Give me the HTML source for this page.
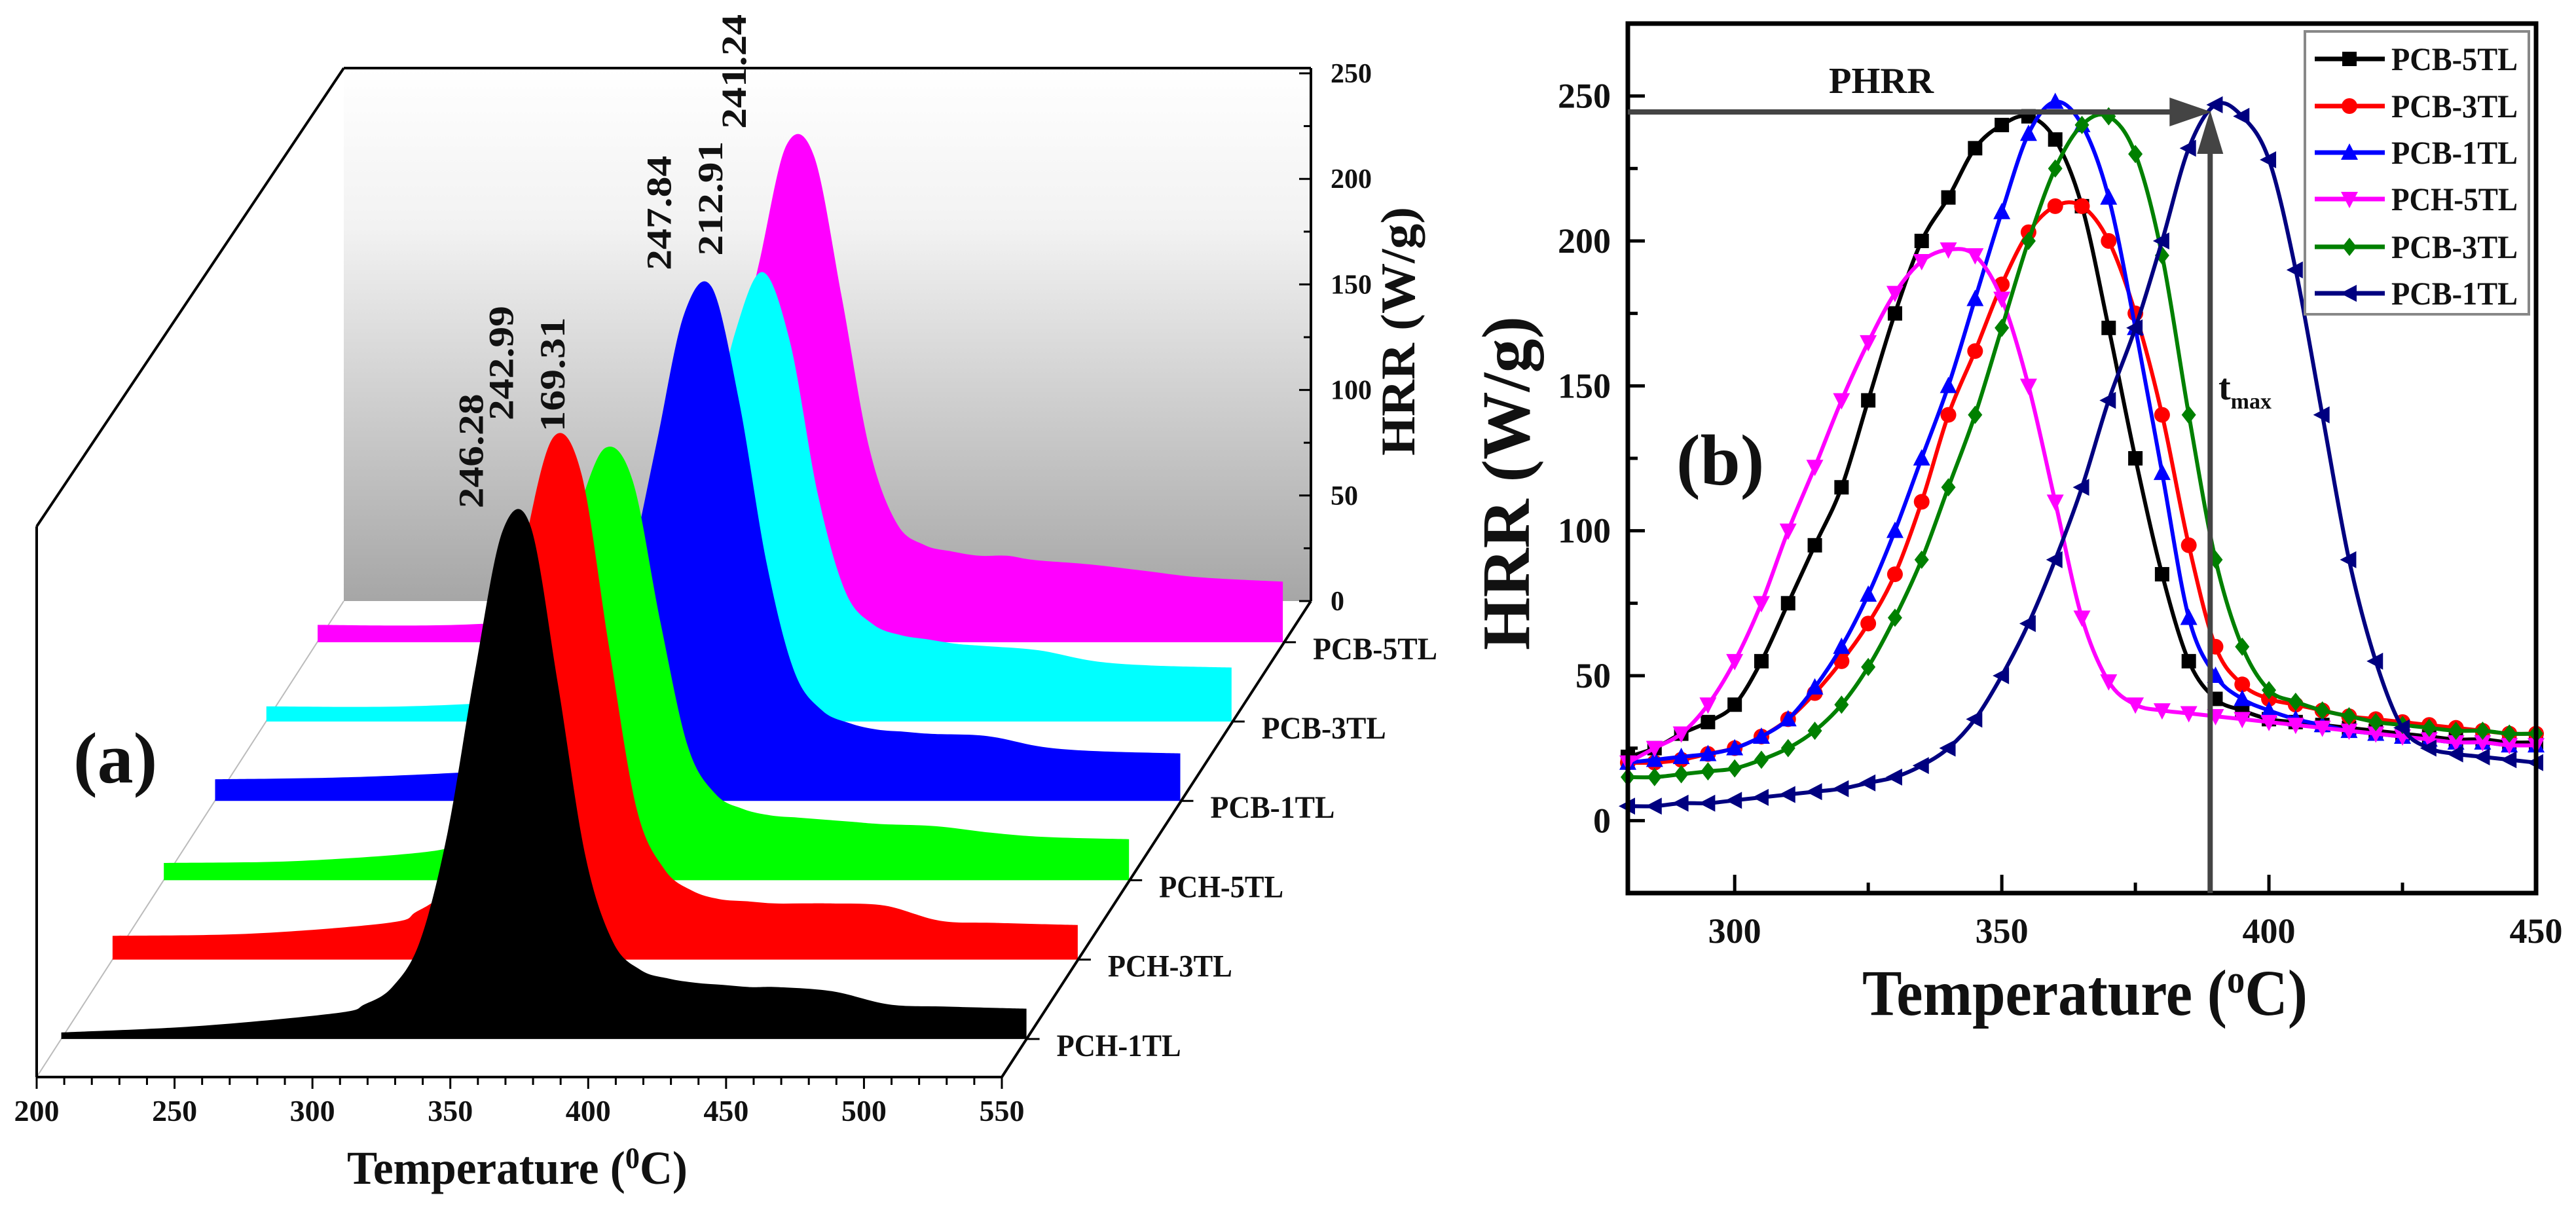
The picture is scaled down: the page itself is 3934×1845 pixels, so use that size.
<!DOCTYPE html>
<html><head><meta charset="utf-8">
<style>
html,body{margin:0;padding:0;background:#fff;}
svg{display:block;}
text{font-family:"Liberation Serif",serif;font-weight:bold;fill:#111;}
</style></head>
<body>
<svg id="fig" xmlns="http://www.w3.org/2000/svg" width="3934" height="1845" viewBox="0 0 3934 1845">
<defs>
<linearGradient id="panelGrad" x1="0" y1="0" x2="0" y2="1">
<stop offset="0" stop-color="#ffffff"/>
<stop offset="0.3" stop-color="#f2f2f2"/>
<stop offset="1" stop-color="#a6a6a6"/>
</linearGradient>
</defs>
<g id="chartA"></g>
<g id="chartB"></g>
</svg>
<script>
// ---------- Chart (a) data ----------
const aTemps = [200,250,300,310,320,330,340,350,360,370,380,390,400,410,420,430,440,450,460,480,500,520,550];
const aNames = ["PCH-1TL","PCH-3TL","PCH-5TL","PCB-1TL","PCB-3TL","PCB-5TL"];
const aBlack   = [3,6,12,16,24,45,95,170,235,238,165,85,45,32,28,26,25,24,24,22,16,15,14];
const aRed     = [11,12,17,22,32,60,120,195,242,225,145,70,42,32,28,27,26,26,26,25,18,17,16];
const aGreen   = [8,9,14,22,40,80,130,170,200,185,120,62,40,33,30,29,28,27,26,25,22,20,19];
const aBlue    = [10,11,14,17,22,35,60,105,165,225,238,185,110,60,42,36,33,32,31,30,25,23,22];
const aCyan    = [7,7,10,12,15,22,40,75,125,180,208,175,105,60,45,40,38,36,35,33,28,26,25];
const aMagenta = [8,8,12,15,22,38,70,120,175,230,225,160,90,55,45,42,40,40,38,36,33,30,28];
const aPeakLabels = ["246.28","242.99","169.31","247.84","212.91","241.24"];
const aXTicks = [200,250,300,350,400,450,500,550];
const aYTicks = [0,50,100,150,200,250];

// ---------- Chart (b) data ----------
const bTemps = [280,285,290,295,300,305,310,315,320,325,330,335,340,345,350,355,360,365,370,375,380,385,390,395,400,405,410,415,420,425,430,435,440,445,450];
const bPCB5 = [22,25,30,34,40,55,75,95,115,145,175,200,215,232,240,243,235,212,170,125,85,55,42,38,35,34,33,32,31,30,29,28,28,27,27];
const bPCB3 = [20,20,21,23,25,29,35,44,55,68,85,110,140,162,185,203,212,212,200,175,140,95,60,47,42,40,38,36,35,34,33,32,31,30,30];
const bPCB1 = [20,21,22,23,25,29,35,46,60,78,100,125,150,180,210,237,248,240,215,170,120,70,50,42,38,35,33,31,30,29,28,27,27,26,26];
const bPCH5 = [20,25,30,40,55,75,100,122,145,165,182,193,197,195,180,150,110,70,48,40,38,37,36,35,34,33,32,31,30,29,28,27,27,26,26];
const bPCB3g = [15,15,16,17,18,21,25,31,40,53,70,90,115,140,170,200,225,240,243,230,195,140,90,60,45,41,38,36,34,33,32,31,31,30,30];
const bPCB1n = [5,5,6,6,7,8,9,10,11,13,15,19,25,35,50,68,90,115,145,170,200,232,247,243,228,190,140,90,55,32,25,23,22,21,20];
const bLegend = ["PCB-5TL","PCB-3TL","PCB-1TL","PCH-5TL","PCB-3TL","PCB-1TL"];
const bXTicks = [300,350,400,450];
const bYTicks = [0,50,100,150,200,250];
const bPHRR = 244.5;
const bTmax = 389;

const NS = "http://www.w3.org/2000/svg";
function mk(tag, attrs, parent){ const e=document.createElementNS(NS,tag); for(const k in attrs) e.setAttribute(k,attrs[k]); parent.appendChild(e); return e; }

// ================= Chart A =================
const A = document.getElementById('chartA');
const ax0 = 56, axPerDeg = 1474/350, ayFront = 1645, stepX = 78.3, stepY = -121.2, hScale = 3.3;
function xa(T,k){ return ax0 + (T-200)*axPerDeg + k*stepX; }
function ya(v,k){ return ayFront + k*stepY - v*hScale; }
const panelL = 525, panelR = 2002, panelT = 104, panelB = 918;
const hrrPerUnit = (918-112)/250;

let el;
el = mk('rect',{x:panelL,y:panelT,width:panelR-panelL,height:panelB-panelT,fill:'url(#panelGrad)'},A);



el = mk('line',{x1:ax0,y1:ayFront,x2:panelL,y2:panelB,stroke:'#bbb','stroke-width':2},A);



const aSeries = [aBlack,aRed,aGreen,aBlue,aCyan,aMagenta];
const aColors = ['#000000','#ff0000','#00ff00','#0000ff','#00ffff','#ff00ff'];
function smoothPath(pts){
  let d = 'M'+pts[0][0]+','+pts[0][1];
  for(let i=0;i<pts.length-1;i++){
    const p0=pts[Math.max(0,i-1)],p1=pts[i],p2=pts[i+1],p3=pts[Math.min(pts.length-1,i+2)];
    const c1x=p1[0]+(p2[0]-p0[0])/6,c1y=p1[1]+(p2[1]-p0[1])/6;
    const c2x=p2[0]-(p3[0]-p1[0])/6,c2y=p2[1]-(p3[1]-p1[1])/6;
    d+=' C'+c1x.toFixed(1)+','+c1y.toFixed(1)+' '+c2x.toFixed(1)+','+c2y.toFixed(1)+' '+p2[0].toFixed(1)+','+p2[1].toFixed(1);
  }
  return d;
}
for(let i=5;i>=0;i--){
  const k = i+0.48;
  const pts = aTemps.map((T,j)=>[xa(T,k),ya(aSeries[i][j],k)]);
  let d = 'M'+xa(200,k)+','+ya(0,k)+' L'+smoothPath(pts).slice(1)+' L'+xa(550,k)+','+ya(0,k)+' Z';
  el = mk('path',{d:d,fill:aColors[i]},A);
  
  
}
// frame lines
const frameLines = [[ax0,804,ax0,ayFront],[ax0,ayFront,1530,ayFront],[1530,ayFront,panelR,panelB],[ax0,804,panelL,panelT],[panelL,panelT,panelR,panelT],[panelR,panelT,panelR,panelB]];
frameLines.forEach((l,i)=>{
  el = mk('line',{x1:l[0],y1:l[1],x2:l[2],y2:l[3],stroke:'#000','stroke-width':4},A);
  
  
});
// x ticks
for(let T=200;T<=550;T+=10){
  const isMajor = T%50===0;
  el = mk('line',{x1:xa(T,0),y1:ayFront,x2:xa(T,0),y2:ayFront+(isMajor?18:12),stroke:'#000','stroke-width':3},A);
  
  
}
aXTicks.forEach(T=>{
  el = mk('text',{x:xa(T,0),y:1712,'font-size':46,'text-anchor':'middle'},A);
  el.textContent = T;
  
  
});
el = mk('text',{x:790,y:1808,'font-size':72,'text-anchor':'middle',textLength:520,lengthAdjust:'spacingAndGlyphs'},A);
el.innerHTML = 'Temperature (<tspan dy="-24" font-size="46">0</tspan><tspan dy="24">C)</tspan>';


// HRR axis ticks
for(let v=0;v<=250;v+=25){
  const y = panelB - v*hrrPerUnit;
  el = mk('line',{x1:panelR,y1:y,x2:panelR-(v%50===0?18:11),y2:y,stroke:'#000','stroke-width':3},A);
  
  
}
aYTicks.forEach(v=>{
  el = mk('text',{x:2032,y:panelB - v*hrrPerUnit+14,'font-size':42},A);
  el.textContent = v;
  
  
});
el = mk('text',{x:0,y:0,'font-size':74,'text-anchor':'middle',transform:'translate(2160,506) rotate(-90)',textLength:380,lengthAdjust:'spacingAndGlyphs'},A);
el.textContent = 'HRR (W/g)';


// series depth ticks & labels
for(let i=0;i<6;i++){
  const k=i+0.48;
  const tx = xa(550,k), ty = ya(0,k);
  el = mk('line',{x1:tx,y1:ty,x2:tx+20,y2:ty,stroke:'#000','stroke-width':3},A);
  
  
  el = mk('text',{x:tx+46,y:ty+26,'font-size':48,textLength:190,lengthAdjust:'spacingAndGlyphs'},A);
  el.textContent = aNames[i];
  
  
}
// peak labels
const peakT = aSeries.map(s=>aTemps[s.indexOf(Math.max(...s))]);
aPeakLabels.forEach((lab,i)=>{
  const k=i+0.48;
  const s=aSeries[i];
  const px = xa(peakT[i],k) - 62 + (i===0?-10:0);
  const py = ya(Math.max(...s),k) - 25;
  el = mk('text',{x:0,y:0,'font-size':54,transform:'translate('+px.toFixed(1)+','+py.toFixed(1)+') rotate(-90)',textLength:175,lengthAdjust:'spacingAndGlyphs'},A);
  el.textContent = lab;
  
  
});
el = mk('text',{x:112,y:1195,'font-size':110},A);
el.textContent='(a)';



// ================= Chart B =================
const B = document.getElementById('chartB');
const bL=2486,bR=3873,bT=36,bB=1364,bXmin=280,bXmax=450,bYmin=-25,bYmax=275;
function xb(T){ return bL + (T-bXmin)/(bXmax-bXmin)*(bR-bL); }
function yb(v){ return bB - (v-bYmin)/(bYmax-bYmin)*(bB-bT); }

const bSeries=[bPCB5,bPCB3,bPCB1,bPCH5,bPCB3g,bPCB1n];
const bColors=['#000000','#ff0000','#0000ff','#ff00ff','#008000','#000080'];
const bMarkers=['square','circle','up','down','diamond','left'];
function marker(type,x,y,c,parent){
  const s=11;
  let e;
  if(type==='square') e=mk('rect',{x:x-s,y:y-s,width:2*s,height:2*s,fill:c},parent);
  else if(type==='circle') e=mk('circle',{cx:x,cy:y,r:s+1,fill:c},parent);
  else {
    let p;
    if(type==='up') p=[[x,y-s-3],[x+s+2,y+s],[x-s-2,y+s]];
    if(type==='down') p=[[x,y+s+3],[x+s+2,y-s],[x-s-2,y-s]];
    if(type==='diamond') p=[[x,y-s-3],[x+s,y],[x,y+s+3],[x-s,y]];
    if(type==='left') p=[[x-s-3,y],[x+s,y-s-2],[x+s,y+s+2]];
    e=mk('polygon',{points:p.map(q=>q.join(',')).join(' '),fill:c},parent);
  }
  return e;
}
for(let i=0;i<6;i++){
  const g=mk('g',{},B);
  
  
  const pts=bTemps.map((T,j)=>[xb(T),yb(bSeries[i][j])]);
  el=mk('path',{d:smoothPath(pts),fill:'none',stroke:bColors[i],'stroke-width':6},g);
  
  
  pts.forEach(p=>{
    el=marker(bMarkers[i],p[0],p[1],bColors[i],g);
    
    
  });
}
// frame
el=mk('rect',{x:bL,y:bT,width:bR-bL,height:bB-bT,fill:'none',stroke:'#000','stroke-width':7},B);


for(let T=300;T<=450;T+=25){
  el=mk('line',{x1:xb(T),y1:bB,x2:xb(T),y2:bB-(T%50===0?28:16),stroke:'#000','stroke-width':5},B);
  
  
}
bXTicks.forEach(T=>{
  el=mk('text',{x:xb(T),y:1440,'font-size':54,'text-anchor':'middle'},B);
  el.textContent=T;
  
  
});
for(let v=-25;v<=275;v+=25){
  el=mk('line',{x1:bL,y1:yb(v),x2:bL+(v%50===0?26:15),y2:yb(v),stroke:'#000','stroke-width':5},B);
  
  
}
bYTicks.forEach(v=>{
  el=mk('text',{x:2460,y:yb(v)+18,'font-size':54,'text-anchor':'end'},B);
  el.textContent=v;
  
  
});
el=mk('text',{x:3184,y:1550,'font-size':100,'text-anchor':'middle',textLength:680,lengthAdjust:'spacingAndGlyphs'},B);
el.innerHTML='Temperature (<tspan dy="-34" font-size="60">o</tspan><tspan dy="34">C)</tspan>';


el=mk('text',{x:0,y:0,'font-size':104,'text-anchor':'middle',transform:'translate(2335,738) rotate(-90)',textLength:510,lengthAdjust:'spacingAndGlyphs'},B);
el.textContent='HRR (W/g)';


el=mk('text',{x:2560,y:740,'font-size':110},B);
el.textContent='(b)';


// PHRR / tmax arrows
const ay=yb(bPHRR), axx=xb(bTmax);
el=mk('line',{x1:bL,y1:ay,x2:axx-50,y2:ay,stroke:'#444','stroke-width':8},B);


el=mk('polygon',{points:(axx-62)+','+(ay-22)+' '+(axx+2)+','+ay+' '+(axx-62)+','+(ay+22),fill:'#444'},B);


el=mk('line',{x1:axx,y1:bB,x2:axx,y2:ay+50,stroke:'#444','stroke-width':8},B);


el=mk('polygon',{points:(axx-20)+','+(ay+64)+' '+axx+','+(ay-2)+' '+(axx+20)+','+(ay+64),fill:'#444'},B);


el=mk('text',{x:2873,y:142,'font-size':56,'text-anchor':'middle',textLength:160,lengthAdjust:'spacingAndGlyphs'},B);
el.textContent='PHRR';


el=mk('text',{x:3388,y:610,'font-size':56},B);
el.innerHTML='t<tspan font-size="34" dy="14">max</tspan>';


// legend
el=mk('rect',{x:3520,y:48,width:342,height:432,fill:'#fff',stroke:'#888','stroke-width':4},B);


const legY=[90,162,233,304,377,448];
for(let i=0;i<6;i++){
  const g=mk('g',{},B);
  
  
  el=mk('line',{x1:3535,y1:legY[i],x2:3642,y2:legY[i],stroke:bColors[i],'stroke-width':7},g);
  
  
  el=marker(bMarkers[i],3588,legY[i],bColors[i],g);
  
  
  el=mk('text',{x:3652,y:legY[i]+17,'font-size':50,textLength:193,lengthAdjust:'spacingAndGlyphs'},g);
  el.textContent=bLegend[i];
  
  
}
</script>
</body></html>
